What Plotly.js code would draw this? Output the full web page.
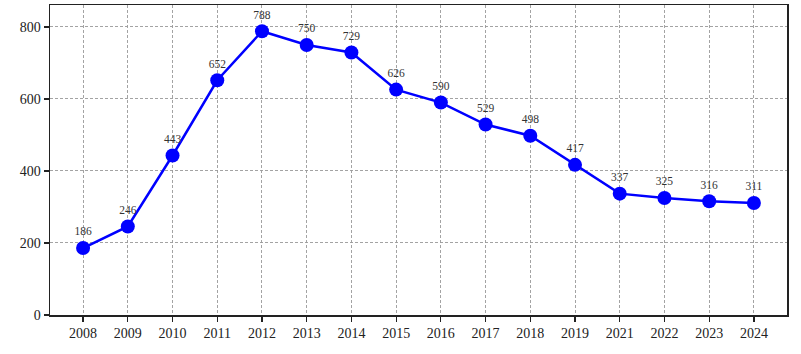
<!DOCTYPE html>
<html>
<head>
<meta charset="utf-8">
<script src="https://cdn.plot.ly/plotly-3.0.1.min.js"></script>
<style>html,body{margin:0;padding:0;background:#fff;}#chart{width:801px;height:354px;}</style>
</head>
<body>
<div id="chart"></div>
<script>
var years = ['2008','2009','2010','2011','2012','2013','2014','2015','2016','2017','2018','2019','2021','2022','2023','2024'];
var values = [186,246,443,652,788,750,729,626,590,529,498,417,337,325,316,311];
var yTicks = [0,200,400,600,800];

var trace = {
  x: years, y: values, type: 'scatter', mode: 'lines+markers+text',
  line: {color: '#0000ff', width: 2.5},
  marker: {color: '#0000ff', size: 14},
  text: values.map(String), textposition: 'top center',
  textfont: {family: 'Liberation Serif, serif', size: 11.5, color: '#333'},
  cliponaxis: false, hoverinfo: 'skip'
};
var layout = {
  width: 801, height: 354,
  margin: {l: 50, r: 14, t: 5, b: 39},
  paper_bgcolor: '#fff', plot_bgcolor: '#fff',
  showlegend: false,
  font: {family: 'Liberation Serif, serif', size: 14, color: '#222'},
  xaxis: {
    type: 'category', range: [-0.74, 15.74],
    showgrid: true, gridcolor: '#999', griddash: '3px,2px', gridwidth: 0.9,
    showline: true, linecolor: '#222', linewidth: 1.5, mirror: true,
    ticks: 'outside', ticklen: 5, tickcolor: '#222', tickwidth: 1.2,
    zeroline: false, tickfont: {size: 14}
  },
  yaxis: {
    range: [0, 861], tickvals: yTicks, ticktext: yTicks.map(String),
    showgrid: true, gridcolor: '#999', griddash: '3px,2px', gridwidth: 0.9,
    showline: true, linecolor: '#222', linewidth: 1.5, mirror: true,
    ticks: 'outside', ticklen: 5, tickcolor: '#222', tickwidth: 1.2,
    zeroline: false, tickfont: {size: 14}
  }
};
Plotly.newPlot('chart', [trace], layout, {displayModeBar: false, staticPlot: true});
</script>
</body>
</html>
